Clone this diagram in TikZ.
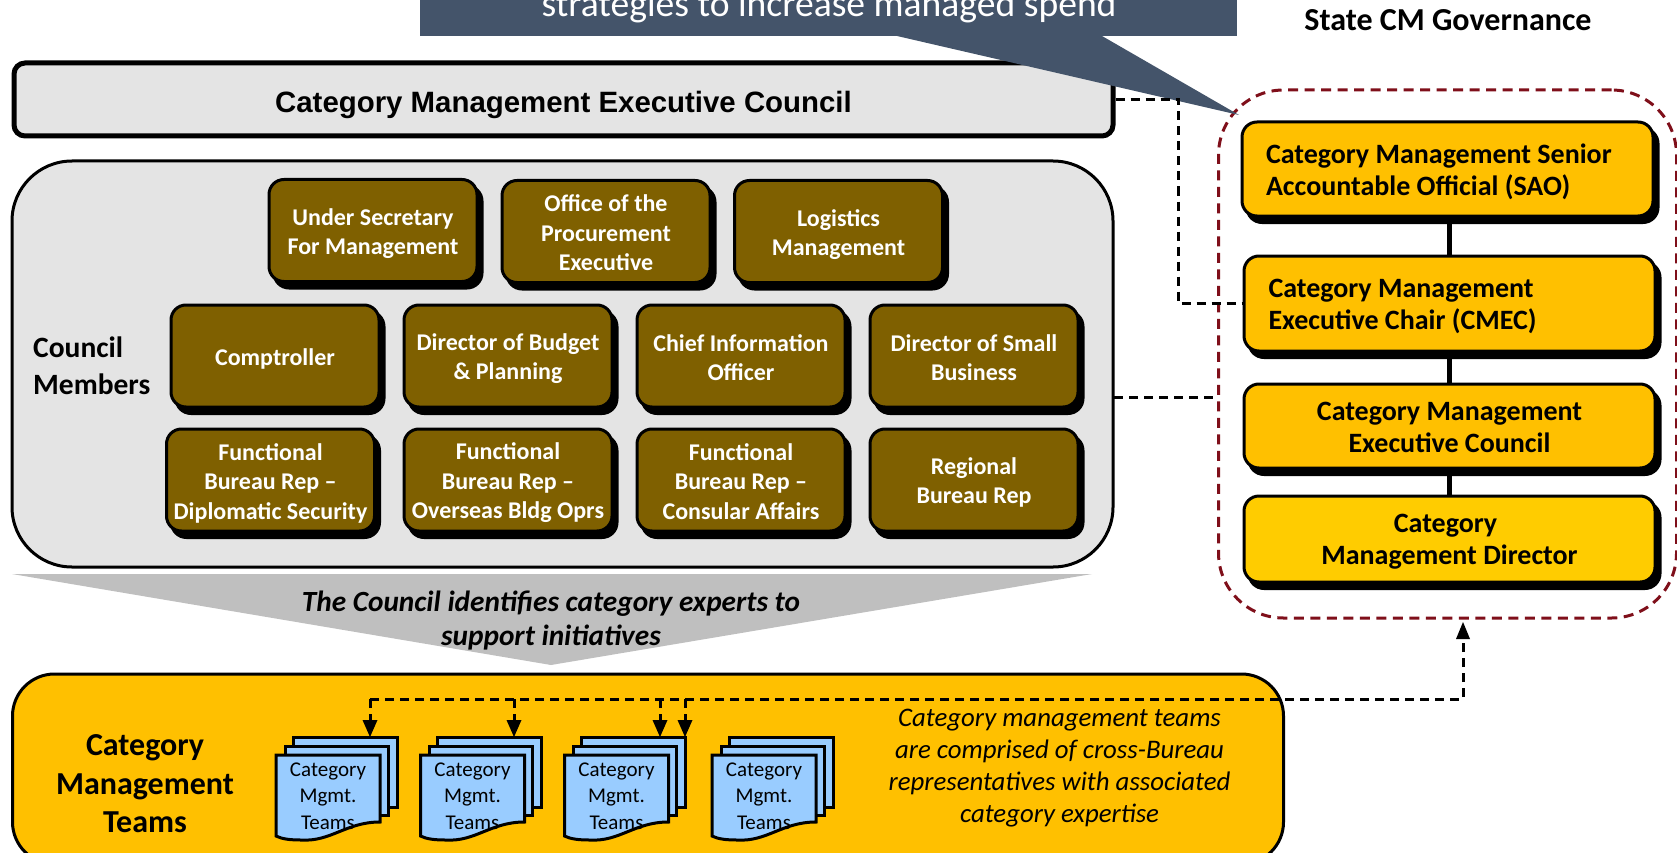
\documentclass[tikz,border=0pt]{standalone}
\usepackage{fontspec}
\setmainfont{Carlito}
\newfontfamily\arialb{Liberation Sans}[Scale=1]
\usetikzlibrary{arrows.meta}
\definecolor{slate}{HTML}{44546A}
\definecolor{panel}{HTML}{E4E4E4}
\definecolor{brownc}{HTML}{7F6000}
\definecolor{goldc}{HTML}{FFC000}
\definecolor{yelc}{HTML}{FFCC00}
\definecolor{wedge}{HTML}{BFBFBF}
\definecolor{pagec}{HTML}{99CCFF}
\definecolor{redd}{HTML}{7F0F1A}
\tikzset{
  x=1pt,y=-1pt,
  dropshadow/.style={preaction={draw=black,fill=black,transform canvas={xshift=5pt,yshift=-6.5pt}}},
  brownbox/.style={dropshadow,draw=black,line width=3pt,fill=brownc,rounded corners=15pt,inner sep=0pt,
    minimum width=208pt,minimum height=102pt},
  brownlab/.style={inner sep=0pt,align=center,text=white,
    font=\fontsize{24}{29.5}\selectfont\bfseries},
  goldbox/.style={dropshadow,draw=black,line width=3pt,fill=goldc,rounded corners=15pt,inner sep=0pt,
    minimum width=411pt},
  goldlab/.style={inner sep=0pt,align=center,text=black,
    font=\fontsize{28}{32}\selectfont\bfseries},
  plain/.style={inner sep=0pt,align=center,text=black},
  dashline/.style={draw=black,line width=3pt,dash pattern=on 9pt off 6pt},
  link/.style={draw=black,line width=4.5pt},
  sheet/.style={draw=black,line width=3pt,fill=pagec},
  doctext/.style={plain,font=\fontsize{21}{26.5}\selectfont},
}
\newcommand{\bbox}[4]{\node[brownbox,label={[brownlab,yshift=-#3pt]center:{#4}}] (#1) at (#2) {};}
\newcommand{\docstack}[2]{%
  \fill[sheet] (#1+17,737) rectangle (#1+121,807);
  \fill[sheet] (#1+9,746) rectangle (#1+112,815);
  \draw[sheet] (#1,755) -- (#1+104,755) -- (#1+104,822)
     .. controls (#1+70,822) and (#1+55,842) .. (#1+25,840)
     .. controls (#1+14,840) and (#1+6,839) .. (#1,836) -- cycle;
  \node[doctext] (#2) at (#1+52,796) {Category\\Mgmt.\\Teams};
}
\begin{document}
\begin{tikzpicture}
\useasboundingbox (0,0) rectangle (1677,853);
\clip (0,0) rectangle (1677,853);
% banner
\node[fill=slate,inner sep=0pt,minimum width=817pt,minimum height=100pt] (banner) at (828.5,-14) {};
\node[plain,text=white,font=\fontsize{37.6}{44}\selectfont,anchor=base] (bannertext) at (829,17) {strategies to increase managed spend};
\node[plain,font=\fontsize{32}{38}\selectfont\bfseries] (state) at (1448,20) {State CM Governance};
% executive council
\node[draw=black,line width=5pt,fill=panel,rounded corners=11pt,inner sep=0pt,minimum width=1099pt,minimum height=73pt,
  label={[plain,yshift=-5pt,font=\arialb\fontsize{29.4}{34}\selectfont\bfseries]center:{Category Management Executive Council}}] (exec) at (563.5,99.5) {};
% panel of members
\node[draw=black,line width=3pt,fill=panel,rounded corners=60pt,inner sep=0pt,minimum width=1101pt,minimum height=406pt] (members) at (562.5,364) {};
\node[plain,align=left,anchor=west,font=\fontsize{29.5}{37}\selectfont\bfseries] (cm) at (33,366) {Council\\Members};
\bbox{us}{373,230.5}{3}{Under Secretary\\For Management}
\bbox{ope}{606,231.5}{1.5}{Office of the\\Procurement\\Executive}
\bbox{log}{838.5,231.5}{3}{Logistics\\Management}
\bbox{comp}{275,356}{2.5}{Comptroller}
\bbox{bud}{508,356}{2.5}{Director of Budget\\\& Planning}
\bbox{cio}{741,356}{1.5}{Chief Information\\Officer}
\bbox{small}{974,356}{1.5}{Director of Small\\Business}
\bbox{dipl}{270.5,480}{3}{Functional\\Bureau Rep --\\Diplomatic Security}
\bbox{obo}{508,480}{3}{Functional\\Bureau Rep --\\Overseas Bldg Oprs}
\bbox{cons}{741,480}{1.5}{Functional\\Bureau Rep --\\Consular Affairs}
\bbox{reg}{974,480}{2.5}{Regional\\Bureau Rep}
% wedge
\fill[wedge] (12,574) -- (1092,574) -- (551,665) -- cycle;
\node[plain,font=\fontsize{29.3}{34}\selectfont\bfseries\itshape] (wedgetext) at (551,621) {The Council identifies category experts to\\support initiatives};
% bottom panel
\node[draw=black,line width=3pt,fill=goldc,rounded corners=42pt,inner sep=0pt,minimum width=1271pt,minimum height=190pt] (teams) at (648,769) {};
\node[plain,font=\fontsize{32}{38.5}\selectfont\bfseries] (teamlabel) at (145,784) {Category\\Management\\Teams};
\docstack{276}{doca}
\docstack{420.5}{docb}
\docstack{564.5}{docc}
\docstack{712}{docd}
\node[plain,font=\fontsize{26.8}{32}\selectfont\itshape] (teamnote) at (1059.5,768) {Category management teams\\are comprised of cross-Bureau\\representatives with associated\\category expertise};
% governance column
\node[draw=redd,line width=3pt,dash pattern=on 10pt off 6.5pt,rounded corners=65pt,inner sep=0pt,minimum width=458pt,minimum height=528pt] (gov) at (1447.5,354) {};
\node[goldbox,minimum height=94pt,label={[goldlab,align=flush left,text width=363pt,yshift=-3pt]center:{Category Management Senior\\Accountable Official (SAO)}}] (sao) at (1447.5,169) {};
\node[goldbox,minimum height=95pt,label={[goldlab,align=flush left,text width=362pt,yshift=-3pt]center:{Category Management\\Executive Chair (CMEC)}}] (cmec) at (1449.5,303.5) {};
\node[goldbox,minimum height=84pt,label={[goldlab,yshift=-1pt]center:{Category Management\\Executive Council}}] (ecb) at (1449.5,426) {};
\node[goldbox,fill=yelc,minimum height=86pt,label={[goldlab,yshift=-3pt]center:{Category\hspace*{8pt}\\Management Director}}] (dir) at (1449.5,539) {};
\draw[link] (cmec.north |- sao.south) -- (cmec.north);
\draw[link] (cmec.south) -- (ecb.north);
\draw[link] (ecb.south) -- (dir.north);
% callout tail
\fill[slate] (897,36) -- (1239,115) -- (1102,36) -- cycle;
% dashed links
\coordinate (elbow) at (1178.5,200);
\draw[dashline] (exec.east) -| (elbow) |- (cmec.west);
\coordinate (memberjoin) at (1114,397);
\draw[dashline] (memberjoin) -- (memberjoin -| gov.west);
\coordinate (busend) at (1463,699);
\coordinate (tipr) at (1463,622);
\coordinate (tipa) at (370,737);
\coordinate (tipb) at (514,737);
\coordinate (tipc) at (660,737);
\coordinate (tipd) at (685,737);
\draw[dashline] (tipa |- busend) -- (busend) -- (tipr |- 0,640);
\draw[dashline] (tipa |- busend) -- (tipa |- 0,725);
\draw[dashline] (tipb |- busend) -- (tipb |- 0,725);
\draw[dashline] (tipc |- busend) -- (tipc |- 0,725);
\draw[dashline] (tipd |- busend) -- (tipd |- 0,725);
\fill (tipr) -- ++(-7,17) -- ++(14,0) -- cycle;
\fill (tipa) -- ++(-7.5,-17) -- ++(15,0) -- cycle;
\fill (tipb) -- ++(-7.5,-17) -- ++(15,0) -- cycle;
\fill (tipc) -- ++(-7.5,-17) -- ++(15,0) -- cycle;
\fill (tipd) -- ++(-7.5,-17) -- ++(15,0) -- cycle;
\end{tikzpicture}
\end{document}
